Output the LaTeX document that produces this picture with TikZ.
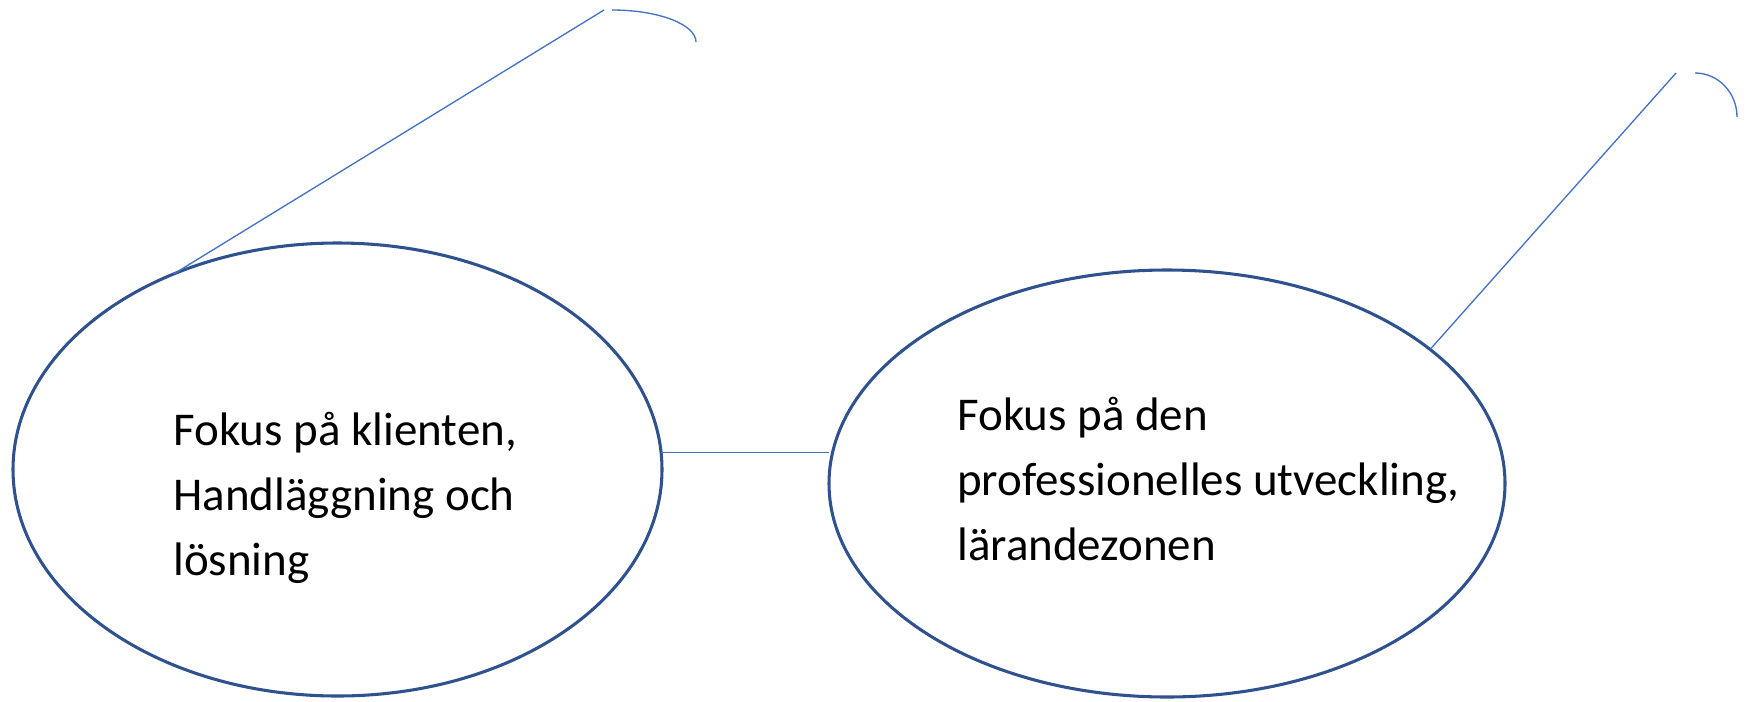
\documentclass[tikz,border=0pt]{standalone}
\usepackage{fontspec}
\setmainfont{Carlito}
\usetikzlibrary{shapes.geometric}
\definecolor{ellblue}{HTML}{2F528F}
\definecolor{lineblue}{HTML}{4472C4}
\begin{document}
\begin{tikzpicture}[x=0.75pt,y=-0.75pt,
  bubble/.style={ellipse,draw=ellblue,line width=2.3pt,inner sep=0pt,outer sep=0pt},
  conn/.style={draw=lineblue,line width=1pt},
  label/.style={anchor=base west,align=left,inner sep=0pt,font=\fontsize{35.25pt}{48.75pt}\selectfont}]
\useasboundingbox (0,0) rectangle (1748,701);
\node[bubble,minimum width=649*0.75pt,minimum height=453*0.75pt] (L) at (337.5,469.5) {};
\node[bubble,minimum width=676*0.75pt,minimum height=427*0.75pt] (R) at (1167,483.5) {};
\node[label] (tL) at (173,575) {Fokus på klienten,\\Handläggning och\\lösning};
\node[label] (tR) at (957,560) {Fokus på den\\professionelles utveckling,\\lärandezonen};
\coordinate (cL) at (604,10);
\coordinate (cR) at (1676,73);
\draw[conn] (L.3.4) -- (L.3.4 -| R.west);
\draw[conn] (L.130.45) -- (cL);
\draw[conn] (R.27.95) -- (cR);
\draw[conn] (612,10) arc[start angle=-90,end angle=0,x radius=84,y radius=32];
\draw[conn] (1695,73) arc[start angle=-90,end angle=0,x radius=42,y radius=44];
\end{tikzpicture}
\end{document}
